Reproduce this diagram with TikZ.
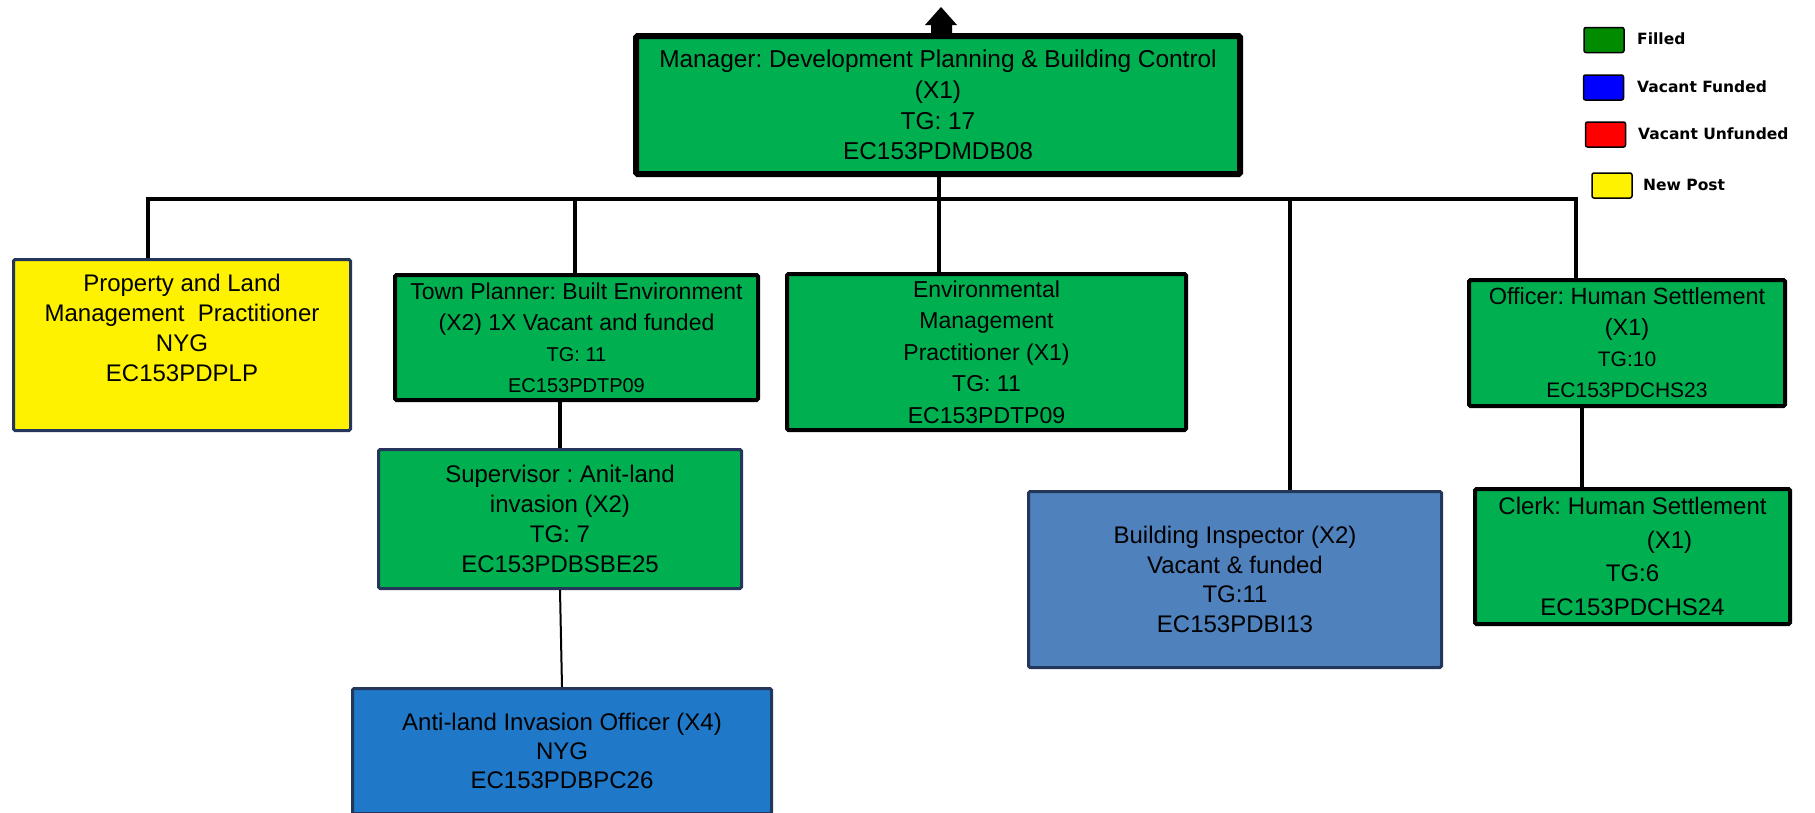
\documentclass[tikz,border=0pt]{standalone}
\usepackage{fontspec}
\setmainfont{Liberation Sans}
\newfontfamily\legfont{DejaVu Sans}
\frenchspacing
\definecolor{boxgreen}{RGB}{0,176,80}
\definecolor{navy}{RGB}{36,55,90}
\definecolor{bifill}{RGB}{79,129,189}
\definecolor{antifill}{RGB}{31,120,200}
\definecolor{leggreen}{RGB}{0,140,0}
\begin{document}
\begin{tikzpicture}[x=1pt,y=-1pt,
  post/.style={rectangle, inner sep=0pt, align=center, rounded corners=1.5pt},
  filledpost/.style={post, fill=boxgreen, draw=black, line width=4pt},
  navypost/.style={post, draw=navy, line width=3pt},
  link/.style={draw=black, line width=4.5pt},
  thinlink/.style={draw=black, line width=2pt},
  swatch/.style={rectangle, draw=black, line width=1.5pt, rounded corners=2pt, minimum width=40pt, minimum height=25pt, inner sep=0pt},
  legtext/.style={anchor=west, inner sep=0pt, font=\legfont\bfseries\fontsize{15.5}{18}\selectfont}]
\useasboundingbox (0,0) rectangle (1815,812);

% nodes
\node[filledpost, line width=6pt, minimum width=604pt, minimum height=138pt, font=\fontsize{24.4}{30.7}\selectfont] (mgr) at (938,105)
  {Manager: Development Planning \& Building Control\\(X1)\\TG: 17\\EC153PDMDB08};
\node[navypost, fill=yellow, minimum width=337pt, minimum height=171pt, font=\fontsize{24}{30}\selectfont] (ppl) at (182,345)
  {Property and Land\\Management \ Practitioner\\NYG\\EC153PDPLP\rule[-34pt]{0pt}{34pt}};
\node[filledpost, minimum width=363pt, minimum height=125pt, font=\fontsize{23}{31}\selectfont] (tp) at (576.5,337.5)
  {Town Planner: Built Environment\\(X2) 1X Vacant and funded\\{\fontsize{20}{31}\selectfont TG: 11}\\{\fontsize{20}{31}\selectfont EC153PDTP09}};
\node[filledpost, minimum width=399pt, minimum height=156pt, font=\fontsize{23}{31.5}\selectfont] (env) at (986.5,352)
  {Environmental\\Management\\Practitioner (X1)\\TG: 11\\EC153PDTP09};
\node[navypost, fill=bifill, minimum width=413pt, minimum height=176pt, font=\fontsize{24}{29.5}\selectfont] (bi) at (1235,579.5)
  {Building Inspector (X2)\\Vacant \& funded\\TG:11\\EC153PDBI13};
\node[filledpost, minimum width=316pt, minimum height=126pt, font=\fontsize{23.5}{31}\selectfont] (off) at (1627,343)
  {Officer: Human Settlement\\(X1)\\{\fontsize{21}{31}\selectfont TG:10}\\{\fontsize{21}{31}\selectfont EC153PDCHS23}};
\node[filledpost, minimum width=315pt, minimum height=135pt, font=\fontsize{24}{33.5}\selectfont] (clerk) at (1632.5,556.5)
  {Clerk: Human Settlement\\\hspace*{74pt}(X1)\\TG:6\\EC153PDCHS24};
\node[navypost, fill=boxgreen, minimum width=363pt, minimum height=139pt, font=\fontsize{24}{30}\selectfont] (sup) at (560,519)
  {Supervisor : Anit-land\\invasion (X2)\\TG: 7\\EC153PDBSBE25};
\node[navypost, fill=antifill, minimum width=419pt, minimum height=125pt, font=\fontsize{24}{29}\selectfont] (anti) at (562,751)
  {Anti-land Invasion Officer (X4)\\NYG\\EC153PDBPC26};

% top arrow
\coordinate (up) at (941,7);
\fill[black] (931,34) -- (931,25) -- (925,25) -- (up) -- (957,25) -- (952,25) -- (952,34) -- cycle;

% connectors
\coordinate (busL) at (148,199);
\coordinate (busR) at (1576,199);
\coordinate (dTP) at (575,199);
\coordinate (dMgr) at (939,199);
\coordinate (dBI) at (1290,199);
\coordinate (cOff) at (1582,0);
\draw[link] (ppl.north -| busL) -- (busL) -- (busR) -- (off.north -| busR);
\draw[link] (mgr.south -| dMgr) -- (dMgr) -- (dMgr |- env.north);
\draw[link] (dTP) -- (dTP |- tp.north);
\draw[link] (dBI) -- (dBI |- bi.north);
\draw[link] (sup.north |- tp.south) -- (sup.north);
\draw[thinlink] (sup.south) -- (anti.north);
\draw[link] (off.south -| cOff) -- (clerk.north -| cOff);

% legend
\node[swatch, fill=leggreen] (lg1) at (1604,40) {};
\node[legtext] (lt1) at (1637,39) {Filled};
\node[swatch, fill=blue] (lg2) at (1603.5,87.5) {};
\node[legtext] (lt2) at (1637,87) {Vacant Funded};
\node[swatch, fill=red] (lg3) at (1605.5,134.5) {};
\node[legtext] (lt3) at (1638,134) {Vacant Unfunded};
\node[swatch, fill=yellow] (lg4) at (1612,185.5) {};
\node[legtext] (lt4) at (1643,185) {New Post};
\end{tikzpicture}
\end{document}
